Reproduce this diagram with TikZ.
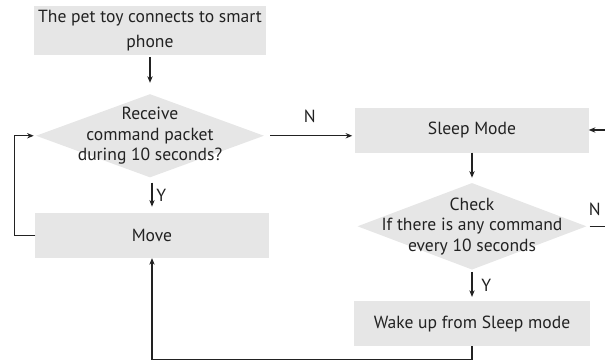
\documentclass[tikz,border=0pt]{standalone}
\usepackage{fontspec}
\setmainfont{PT Sans}
\usetikzlibrary{arrows.meta, positioning, shapes.geometric}

\definecolor{boxgray}{HTML}{E6E6E6}
\definecolor{linegray}{HTML}{222222}
\newcommand{\flowfont}{\fontsize{15}{17.5}\selectfont}

\begin{document}
\begin{tikzpicture}[
    x=0.03cm, y=-0.03cm,
    node distance=10mm and 0mm,
    box/.style={rectangle, fill=boxgray, minimum width=69.9mm, minimum height=13.5mm, align=center, font=\flowfont, text=linegray},
    decision/.style={diamond, fill=boxgray, minimum width=68.4mm, minimum height=25mm, inner sep=0pt},
    dtext/.style={align=center, font=\flowfont, text=linegray},
    lbl/.style={font=\flowfont, text=linegray},
    arr/.style={-{Stealth[length=2mm, width=1.6mm]}, line width=0.9pt, draw=linegray},
]
\useasboundingbox (0,0) rectangle (605,362);

% Left column
\node[box, minimum width=69mm] (conn) at (150,30.5) {The pet toy connects to smart\\[3.5pt]phone};
\node[decision, below=11.7mm of conn] (ask) {};
\node[dtext] (asktxt) at (ask) {Receive\\command packet\\during 10 seconds?};
\node[box, below=10.5mm of ask, xshift=0.6mm] (move) {Move};

% Right column
\node[box] (sleep) at (472,130) {Sleep Mode};
\node[decision, below=9mm of sleep, minimum width=68.7mm, minimum height=26mm] (check) {};
\node[dtext] (checktxt) at (check) {Check\\If there is any command\\every 10 seconds};
\node[box, below=9.3mm of check, minimum width=70.8mm] (wake) {Wake up from Sleep mode};

% Vertical flow
\draw[arr, shorten <=0.6mm, shorten >=3.3mm] (conn) -- (ask);
\draw[arr, shorten <=1.5mm, shorten >=1.8mm] (ask.south -| move) -- (move.north)
  node[midway, right, lbl] {Y};
\draw[arr, shorten >=1.5mm] (sleep) -- (check);
\draw[arr, shorten <=0.6mm, shorten >=1.2mm] (check) -- (wake)
  node[midway, right=1.5mm, lbl] {Y};

% No command: go to sleep
\draw[arr, shorten <=1.8mm, shorten >=0.9mm] (ask.east) -- (ask.east -| sleep.west)
  node[midway, above=2.5mm, lbl] {N};

% Check again
\draw[arr, shorten <=0.9mm] (check.east) node[above right=3mm and 0.5mm, lbl, inner sep=0pt] {N}
  -- ++(40,0) |- (sleep.east);

% Move loops back
\draw[arr, shorten >=0.6mm] (move.west) -- ++(-21,0) |- (ask.west);

% Wake up returns to move
\draw[arr] (wake.south) -- ++(0,13.5) -| (move.south);
\end{tikzpicture}
\end{document}
